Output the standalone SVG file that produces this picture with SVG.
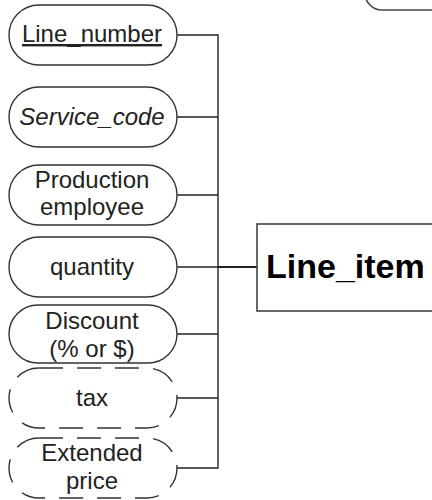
<svg xmlns="http://www.w3.org/2000/svg" width="432" height="500" viewBox="0 0 432 500">
<style>
.attr{fill:#fff;stroke:#333;stroke-width:1.4}
.derived{fill:#fff;stroke:#333;stroke-width:1.4;stroke-dasharray:24 14}
.ent{fill:#fff;stroke:#444;stroke-width:1.6}
.t{font-family:"Liberation Sans",Arial,sans-serif;font-size:24px;fill:#222;text-anchor:middle}
.et{font-family:"Liberation Sans",Arial,sans-serif;font-size:34px;font-weight:bold;fill:#000}
.c{fill:none;stroke:#222;stroke-width:1.4}
</style>
<rect width="432" height="500" fill="#fff"/>
<g id="connectors">
<path class="c" d="M177 35 H218 V468 H177 M177 117 H218 M177 195 H218 M177 267 H218 M177 334 H218 M177 398 H218"/>
<path class="c" style="stroke-width:2.2" d="M218 267 H257"/>
</g>
<g id="partial_node">
<rect class="ent" x="365" y="-60" width="120" height="70" rx="17" ry="17"/>
</g>
<g id="Line_item">
<rect class="ent" x="257" y="224" width="220" height="87"/>
<text class="et" x="266" y="278">Line_item</text>
</g>
<g id="Line_number">
<rect class="attr" x="9" y="5" width="168" height="60" rx="30" ry="30"/>
<text class="t" x="92" y="42" text-decoration="underline">Line_number</text>
</g>
<g id="Service_code">
<rect class="attr" x="9" y="87" width="168" height="60" rx="30" ry="30"/>
<text class="t" x="92" y="125" font-style="italic">Service_code</text>
</g>
<g id="Production_employee">
<rect class="attr" x="9" y="165" width="168" height="60" rx="30" ry="30"/>
<text class="t" x="92" y="188">Production</text>
<text class="t" x="92" y="215">employee</text>
</g>
<g id="quantity">
<rect class="attr" x="9" y="237" width="168" height="60" rx="30" ry="30"/>
<text class="t" x="92" y="275">quantity</text>
</g>
<g id="Discount">
<rect class="attr" x="9" y="305" width="168" height="58" rx="29" ry="29"/>
<text class="t" x="92" y="329">Discount</text>
<text class="t" x="92" y="357">(% or $)</text>
</g>
<g id="tax">
<rect class="derived" x="9" y="368" width="168" height="60" rx="30" ry="30"/>
<text class="t" x="92" y="406">tax</text>
</g>
<g id="Extended_price">
<rect class="derived" x="9" y="438" width="168" height="60" rx="30" ry="30"/>
<text class="t" x="92" y="461">Extended</text>
<text class="t" x="92" y="489">price</text>
</g>
</svg>
